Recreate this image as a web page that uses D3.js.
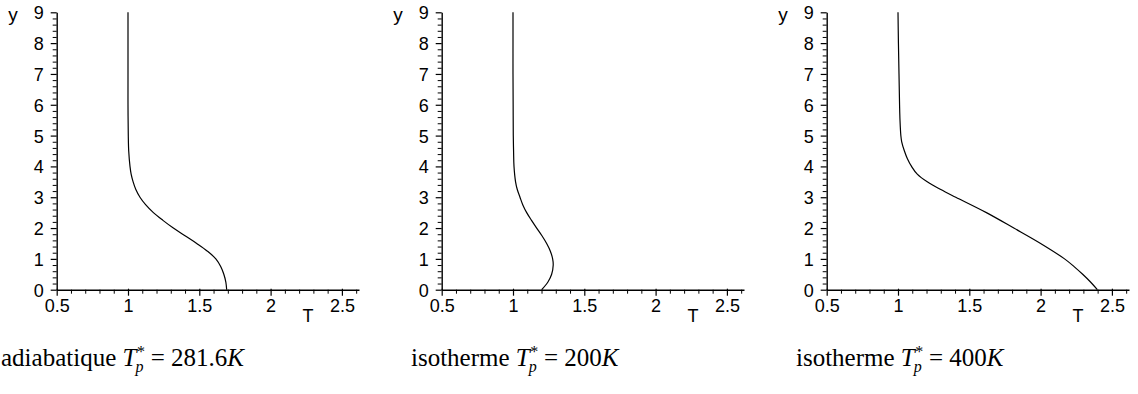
<!DOCTYPE html>
<html><head><meta charset="utf-8">
<script src="https://cdn.jsdelivr.net/npm/d3@7"></script>
<style>
html,body{margin:0;padding:0;background:#fff;}
svg{display:block;}
</style></head>
<body>
<svg id="chart" width="1138" height="394"></svg>
<script>
// ---- data ----
const adiabY = [0, 0.25, 0.5, 0.75, 1, 1.25, 1.5, 1.75, 2, 2.25, 2.5, 2.75, 3, 3.25, 3.5, 3.75, 4, 4.5, 5, 6, 7, 8, 9];
const adiabT = [1.692, 1.686, 1.672, 1.650, 1.616, 1.557, 1.482, 1.400, 1.318, 1.245, 1.178, 1.125, 1.084, 1.055, 1.036, 1.022, 1.014, 1.005, 1.002, 1.0, 1.0, 1.0, 1.0];
const iso200Y = [0, 0.25, 0.5, 0.8, 1, 1.25, 1.5, 1.75, 2, 2.25, 2.5, 2.75, 3, 3.25, 3.5, 4, 4.5, 5, 6, 7, 8, 9];
const iso200T = [1.201, 1.245, 1.271, 1.282, 1.278, 1.262, 1.236, 1.203, 1.166, 1.130, 1.096, 1.069, 1.049, 1.030, 1.018, 1.007, 1.004, 1.002, 1.001, 1.0, 1.0, 1.0];
const iso400Y = [0, 0.25, 0.5, 0.75, 1, 1.5, 2, 2.5, 3, 3.25, 3.5, 3.75, 4, 4.25, 4.5, 4.8, 5, 5.5, 6, 7, 8, 9];
const iso400T = [2.398, 2.350, 2.295, 2.235, 2.168, 2.000, 1.812, 1.620, 1.405, 1.300, 1.205, 1.135, 1.095, 1.066, 1.045, 1.026, 1.020, 1.014, 1.011, 1.007, 1.003, 1.0];
const xTickValues = [0.5, 1, 1.5, 2, 2.5];
const xTickLabels = ["0.5", "1", "1.5", "2", "2.5"];
const yTickValues = [0, 1, 2, 3, 4, 5, 6, 7, 8, 9];
const captionWords = ["adiabatique", "isotherme", "isotherme"];
const captionValues = ["281.6", "200", "400"];
const panelSeries = [[adiabY, adiabT], [iso200Y, iso200T], [iso400Y, iso400T]];

// ---- layout ----
const svg = d3.select("#chart");
const panelStep = 385;
const axX0 = 56.7, axX1 = 359, axY0 = 289.7, axY1 = 12.3;
const xDomain = [0.5, 0.5 + (axX1 - axX0) / 142.6];
const sansFont = "'Liberation Sans', Arial, Helvetica, sans-serif";
const serifFont = "'Liberation Serif', 'Times New Roman', serif";
const captionX = [1, 411, 796];

panelSeries.forEach((ser, i) => {
  const g = svg.append("g").attr("transform", `translate(${i * panelStep},0)`);
  const x = d3.scaleLinear().domain(xDomain).range([axX0, axX1]);
  const y = d3.scaleLinear().domain([0, 9]).range([axY0, axY1]);

  // minor x ticks
  const xMinor = d3.range(6, 27).map(v => v / 10).filter(v => Math.abs(v * 2 - Math.round(v * 2)) > 1e-6);
  g.append("g").attr("transform", `translate(0,${axY0})`)
    .call(d3.axisBottom(x).tickValues(xMinor).tickSize(4).tickSizeOuter(0).tickFormat(""))
    .call(a => a.select(".domain").remove())
    .selectAll("line").attr("stroke", "#000").attr("stroke-width", 1);
  // major x ticks
  const xa = g.append("g").attr("transform", `translate(0,${axY0})`)
    .call(d3.axisBottom(x).tickValues(xTickValues).tickSize(6).tickSizeOuter(0)
      .tickFormat((d, k) => xTickLabels[k]));
  xa.select(".domain").attr("stroke", "#000").attr("stroke-width", 1.4);
  xa.selectAll(".tick line").attr("stroke", "#000").attr("stroke-width", 1.2).attr("y1", -1);
  xa.selectAll(".tick text").attr("font-family", sansFont).attr("font-size", 18)
    .attr("fill", "#000").attr("y", 10).attr("dy", "0.71em");

  // minor y ticks
  const yMinor = d3.range(0, 46).map(v => v / 5).filter(v => Math.abs(v - Math.round(v)) > 1e-6);
  g.append("g").attr("transform", `translate(${axX0},0)`)
    .call(d3.axisLeft(y).tickValues(yMinor).tickSize(4).tickSizeOuter(0).tickFormat(""))
    .call(a => a.select(".domain").remove())
    .selectAll("line").attr("stroke", "#000").attr("stroke-width", 1);
  const ya = g.append("g").attr("transform", `translate(${axX0},0)`)
    .call(d3.axisLeft(y).tickValues(yTickValues).tickSize(6).tickSizeOuter(0).tickFormat(d3.format("d")));
  ya.select(".domain").attr("stroke", "#000").attr("stroke-width", 1.4);
  ya.selectAll(".tick line").attr("stroke", "#000").attr("stroke-width", 1.2);
  ya.selectAll(".tick text").attr("font-family", sansFont).attr("font-size", 18)
    .attr("fill", "#000").attr("x", -13).attr("dy", "0.36em");

  // axis titles
  g.append("text").attr("x", 13).attr("y", 21).attr("text-anchor", "middle")
    .attr("font-family", sansFont).attr("font-size", 19).text("y");
  g.append("text").attr("x", 308).attr("y", 322).attr("text-anchor", "middle")
    .attr("font-family", sansFont).attr("font-size", 18).text("T");

  // curve
  const pts = ser[0].map((yy, k) => [ser[1][k], yy]);
  const line = d3.line().x(d => x(d[0])).y(d => y(d[1]))
    .curve(d3.curveCatmullRom.alpha(0.5));
  g.append("path").datum(pts).attr("d", line).attr("fill", "none")
    .attr("stroke", "#000").attr("stroke-width", 1.2);
});

// captions
captionWords.forEach((w, i) => {
  const x0 = captionX[i], base = 366, fs = 25;
  const t1 = svg.append("text").attr("x", x0).attr("y", base)
    .attr("font-family", serifFont).attr("font-size", fs).attr("fill", "#000");
  t1.append("tspan").text(w + " ");
  t1.append("tspan").attr("font-style", "italic").text("T");
  const w1 = t1.node().getComputedTextLength();
  svg.append("text").attr("x", x0 + w1 + 0.5).attr("y", base - 9)
    .attr("font-family", serifFont).attr("font-size", 16).text("*");
  svg.append("text").attr("x", x0 + w1 - 1).attr("y", base + 6)
    .attr("font-family", serifFont).attr("font-size", 16).attr("font-style", "italic").text("p");
  const t3 = svg.append("text").attr("x", x0 + w1 + 8).attr("y", base)
    .attr("font-family", serifFont).attr("font-size", fs).attr("fill", "#000")
    .attr("xml:space", "preserve");
  t3.append("tspan").text(" = " + captionValues[i]);
  t3.append("tspan").attr("font-style", "italic").text("K");
});
</script>
</body></html>
